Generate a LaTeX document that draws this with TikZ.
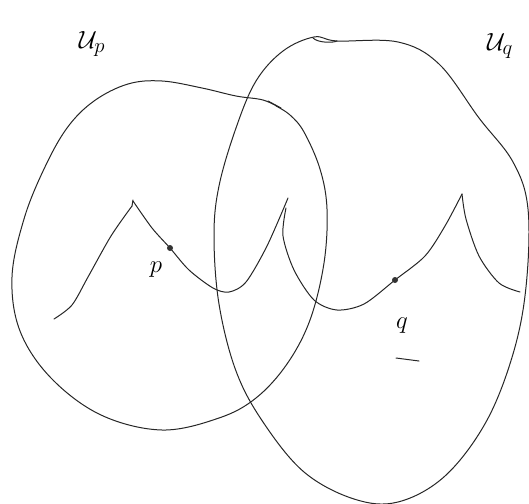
\documentclass[tikz,border=0pt]{standalone}
\begin{document}
\begin{tikzpicture}[x=1pt,y=-1pt,
  stroke/.style={line width=1pt,black!85,line join=round,line cap=round},
  pt/.style={circle,fill=black!80,inner sep=0pt,minimum size=6pt},
  lbl/.style={font=\fontsize{30}{34}\selectfont},
  slbl/.style={font=\fontsize{26}{30}\selectfont}]
\useasboundingbox (0,0) rectangle (529,503);
% left neighbourhood U_p
\draw[stroke] plot[smooth, tension=0.6] coordinates {
 (280,108) (263,100) (236,96) (202,88) (162,81) (128,84) (94,101) (67,128)
 (44,169) (24,219) (12,277) (20,331) (51,378) (101,415) (162,430) (219,418)
 (256,398) (287,364) (310,320) (324,263) (327,209) (320,169) (304,132)
 (290,115) (276,106)};
\draw[stroke] (268,101) -- (281,108);
% right neighbourhood U_q
\draw[stroke] plot[smooth cycle, tension=0.6] coordinates {
 (314,37) (337,41) (398,42) (439,64) (479,118) (513,162) (528,209) (526,287)
 (513,354) (486,422) (445,476) (398,502) (354,499) (304,472) (263,422)
 (236,371) (219,304) (214,236) (219,186) (236,128) (256,81) (283,51)};
\draw[stroke] (313,38) .. controls (318,43) and (333,43) .. (337,41);
% left curve through p
\draw[stroke] plot[smooth, tension=0.5] coordinates {
 (54,319) (72,305) (88,277) (111,236) (132,206)};
\draw[stroke] (132,206) -- (133,200);
\draw[stroke] plot[smooth, tension=0.5] coordinates {
 (133,201) (152,228) (170,248) (189,270) (213,288) (229,292) (246,282)
 (267,246) (288,198)};
% right curve through q
\draw[stroke] plot[smooth, tension=0.5] coordinates {
 (286,208) (283,236) (294,270) (314,300) (337,310) (364,304) (395,280)
 (425,256) (445,226) (462,194)};
\draw[stroke] plot[smooth, tension=0.5] coordinates {
 (462,194) (466,219) (479,256) (499,283) (520,292)};
% points
\node[pt] (p) at (170,248) {};
\node[pt] (q) at (395,280) {};
% labels
\node[lbl] (Up) at (92,44) {$\mathcal{U}_p$};
\node[lbl] (Uq) at (500,46) {$\mathcal{U}_q$};
\node[slbl] (lp) at (156,270) {$p$};
\node[slbl] (lq) at (402,326) {$q$};
\draw[stroke] (396,358) -- (419,361);
\end{tikzpicture}
\end{document}
